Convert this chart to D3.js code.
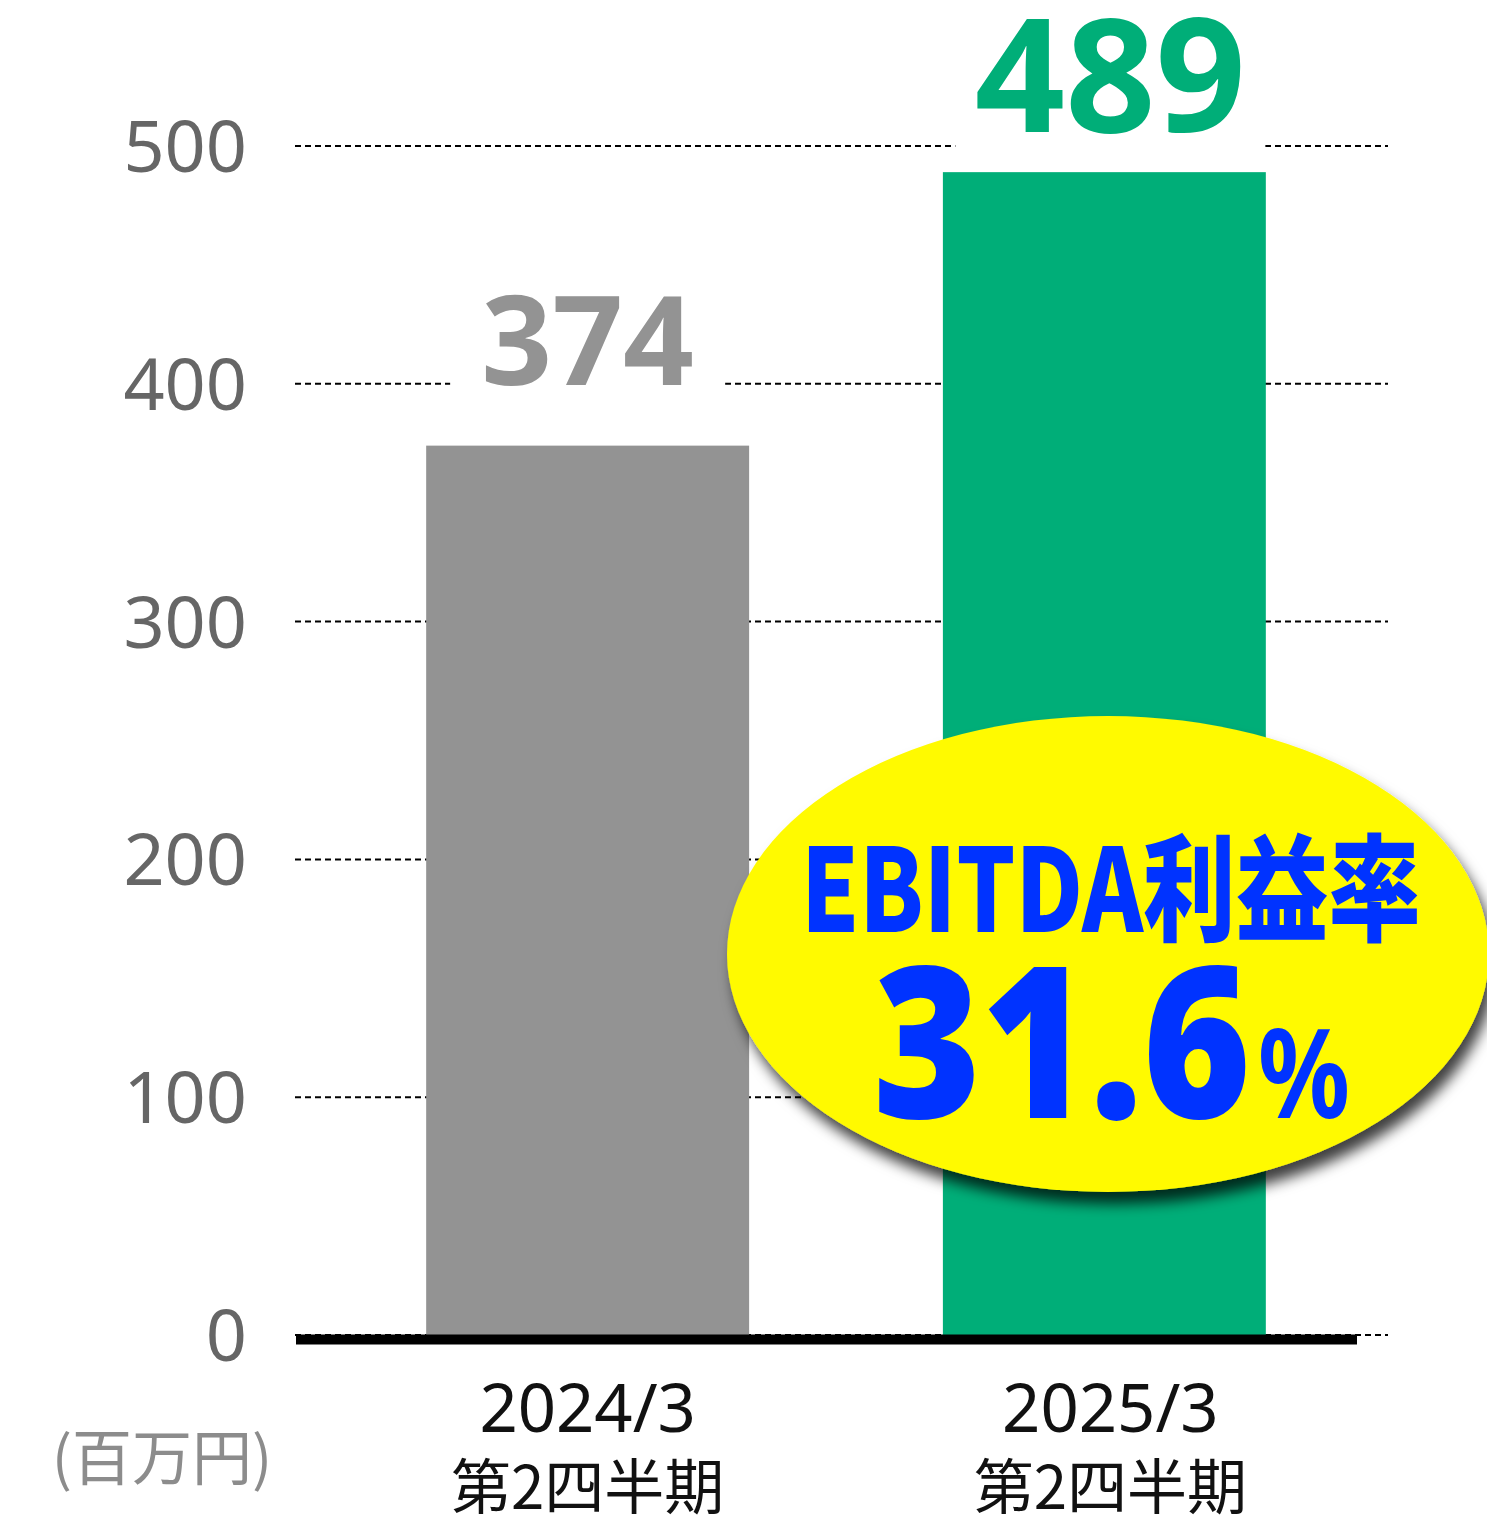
<!DOCTYPE html>
<html>
<head>
<meta charset="utf-8">
<script src="https://cdn.jsdelivr.net/npm/d3@7"></script>
<style>
  html, body { margin: 0; padding: 0; background: #fff; }
  svg { display: block; }
</style>
</head>
<body>
<svg id="chart"></svg>
<script>
// データ
const categories = ["2024/3", "2025/3"];
const periodLabels = ["第2四半期", "第2四半期"];
const values = [374, 489];
const yTicks = [0, 100, 200, 300, 400, 500];
const unitLabel = "(百万円)";
const calloutTitle = "EBITDA利益率";
const calloutValue = "31.6";
const calloutUnit = "%";

const W = 1487, H = 1521;
const barColors = ["#939393", "#00AE78"];
const labelColors = ["#939393", "#00AE78"];

const svg = d3.select("#chart")
    .attr("width", W)
    .attr("height", H)
    .attr("viewBox", `0 0 ${W} ${H}`);

// スケール
const x = d3.scaleBand()
    .domain(categories)
    .range([297, 1395])
    .paddingInner(0.375)
    .paddingOuter(0.25);

const y = d3.scaleLinear()
    .domain([0, 500])
    .range([1335, 146]);

// ラベルの中心 (2本目は少し右寄り)
const labelX = (d, i) => x(categories[i]) + x.bandwidth() / 2 + (i ? 6 : 0);

// グリッド線 (点線)
svg.append("g")
    .selectAll("line")
    .data(yTicks)
    .join("line")
    .attr("x1", 295)
    .attr("x2", 1388)
    .attr("y1", d => y(d))
    .attr("y2", d => y(d))
    .attr("stroke", "#000")
    .attr("stroke-width", 2)
    .attr("stroke-dasharray", "6,4");

// y軸ラベル
svg.append("g")
    .selectAll("text")
    .data(yTicks)
    .join("text")
    .attr("x", 247)
    .attr("y", d => y(d))
    .attr("dy", "0.36em")
    .attr("text-anchor", "end")
    .attr("font-family", "'Noto Sans', sans-serif")
    .attr("font-size", 72)
    .attr("fill", "#666666")
    .text(d => d);

// 単位
svg.append("text")
    .attr("x", 162)
    .attr("y", 1480)
    .attr("text-anchor", "middle")
    .attr("font-family", "'Noto Sans CJK JP', sans-serif")
    .attr("font-size", 60)
    .attr("fill", "#8c8c8c")
    .text(unitLabel);

// 値ラベル背景 (グリッド線を隠す)
const labelBox = [
    { w: 275, h: 110, size: 124 },
    { w: 310, h: 150, size: 158 }
];
svg.append("g")
    .selectAll("rect")
    .data(values)
    .join("rect")
    .attr("x", (d, i) => labelX(d, i) - labelBox[i].w / 2)
    .attr("y", (d, i) => y(d) - 20 - labelBox[i].h)
    .attr("width", (d, i) => labelBox[i].w)
    .attr("height", (d, i) => labelBox[i].h)
    .attr("fill", "#fff");

// 棒
svg.append("g")
    .selectAll("rect")
    .data(values)
    .join("rect")
    .attr("x", (d, i) => x(categories[i]))
    .attr("y", d => y(d))
    .attr("width", x.bandwidth())
    .attr("height", d => y(0) - y(d))
    .attr("fill", (d, i) => barColors[i]);

// 値ラベル
svg.append("g")
    .selectAll("text")
    .data(values)
    .join("text")
    .attr("x", labelX)
    .attr("y", (d, i) => i ? y(d) - 40 : y(d) - 61)
    .attr("text-anchor", "middle")
    .attr("font-family", "'Noto Sans', sans-serif")
    .attr("font-weight", 700)
    .attr("font-size", (d, i) => labelBox[i].size)
    .attr("fill", (d, i) => labelColors[i])
    .text(d => d);

// 基準線
svg.append("line")
    .attr("x1", 296)
    .attr("x2", 1357)
    .attr("y1", y(0) + 4.5)
    .attr("y2", y(0) + 4.5)
    .attr("stroke", "#000")
    .attr("stroke-width", 10);

// x軸ラベル
const xl = svg.append("g")
    .selectAll("g")
    .data(categories)
    .join("g")
    .attr("transform", (d, i) => `translate(${labelX(d, i)},0)`);

xl.append("text")
    .attr("y", 1432)
    .attr("text-anchor", "middle")
    .attr("font-family", "'Noto Sans', sans-serif")
    .attr("font-size", 67)
    .attr("fill", "#111")
    .text(d => d);

xl.append("text")
    .attr("y", 1509)
    .attr("text-anchor", "middle")
    .attr("font-family", "'Noto Sans CJK JP', sans-serif")
    .attr("font-size", 60)
    .attr("fill", "#111")
    .text((d, i) => periodLabels[i]);

// 吹き出し (楕円)
const defs = svg.append("defs");
const f = defs.append("filter")
    .attr("id", "shadow")
    .attr("x", "-20%").attr("y", "-20%")
    .attr("width", "140%").attr("height", "140%");
f.append("feDropShadow")
    .attr("dx", 6)
    .attr("dy", 12)
    .attr("stdDeviation", 7)
    .attr("flood-color", "#000")
    .attr("flood-opacity", 0.75);

const callout = svg.append("g");
callout.append("ellipse")
    .attr("cx", 1108)
    .attr("cy", 954)
    .attr("rx", 381)
    .attr("ry", 238)
    .attr("fill", "#FFFA00")
    .attr("filter", "url(#shadow)");

callout.append("text")
    .attr("x", 801)
    .attr("y", 932)
    .attr("font-family", "'Noto Sans CJK JP', sans-serif")
    .attr("font-weight", 900)
    .attr("font-size", 116)
    .attr("fill", "#0033FF")
    .attr("textLength", 620)
    .attr("lengthAdjust", "spacingAndGlyphs")
    .text(calloutTitle);

callout.append("text")
    .attr("x", 873)
    .attr("y", 1118)
    .attr("font-family", "'Noto Sans', sans-serif")
    .attr("font-weight", 900)
    .attr("font-size", 212)
    .attr("fill", "#0033FF")
    .attr("textLength", 378)
    .attr("lengthAdjust", "spacingAndGlyphs")
    .text(calloutValue);

callout.append("text")
    .attr("x", 1258)
    .attr("y", 1118)
    .attr("font-family", "'Noto Sans', sans-serif")
    .attr("font-weight", 700)
    .attr("font-size", 124)
    .attr("fill", "#0033FF")
    .attr("textLength", 92)
    .attr("lengthAdjust", "spacingAndGlyphs")
    .text(calloutUnit);
</script>
</body>
</html>
